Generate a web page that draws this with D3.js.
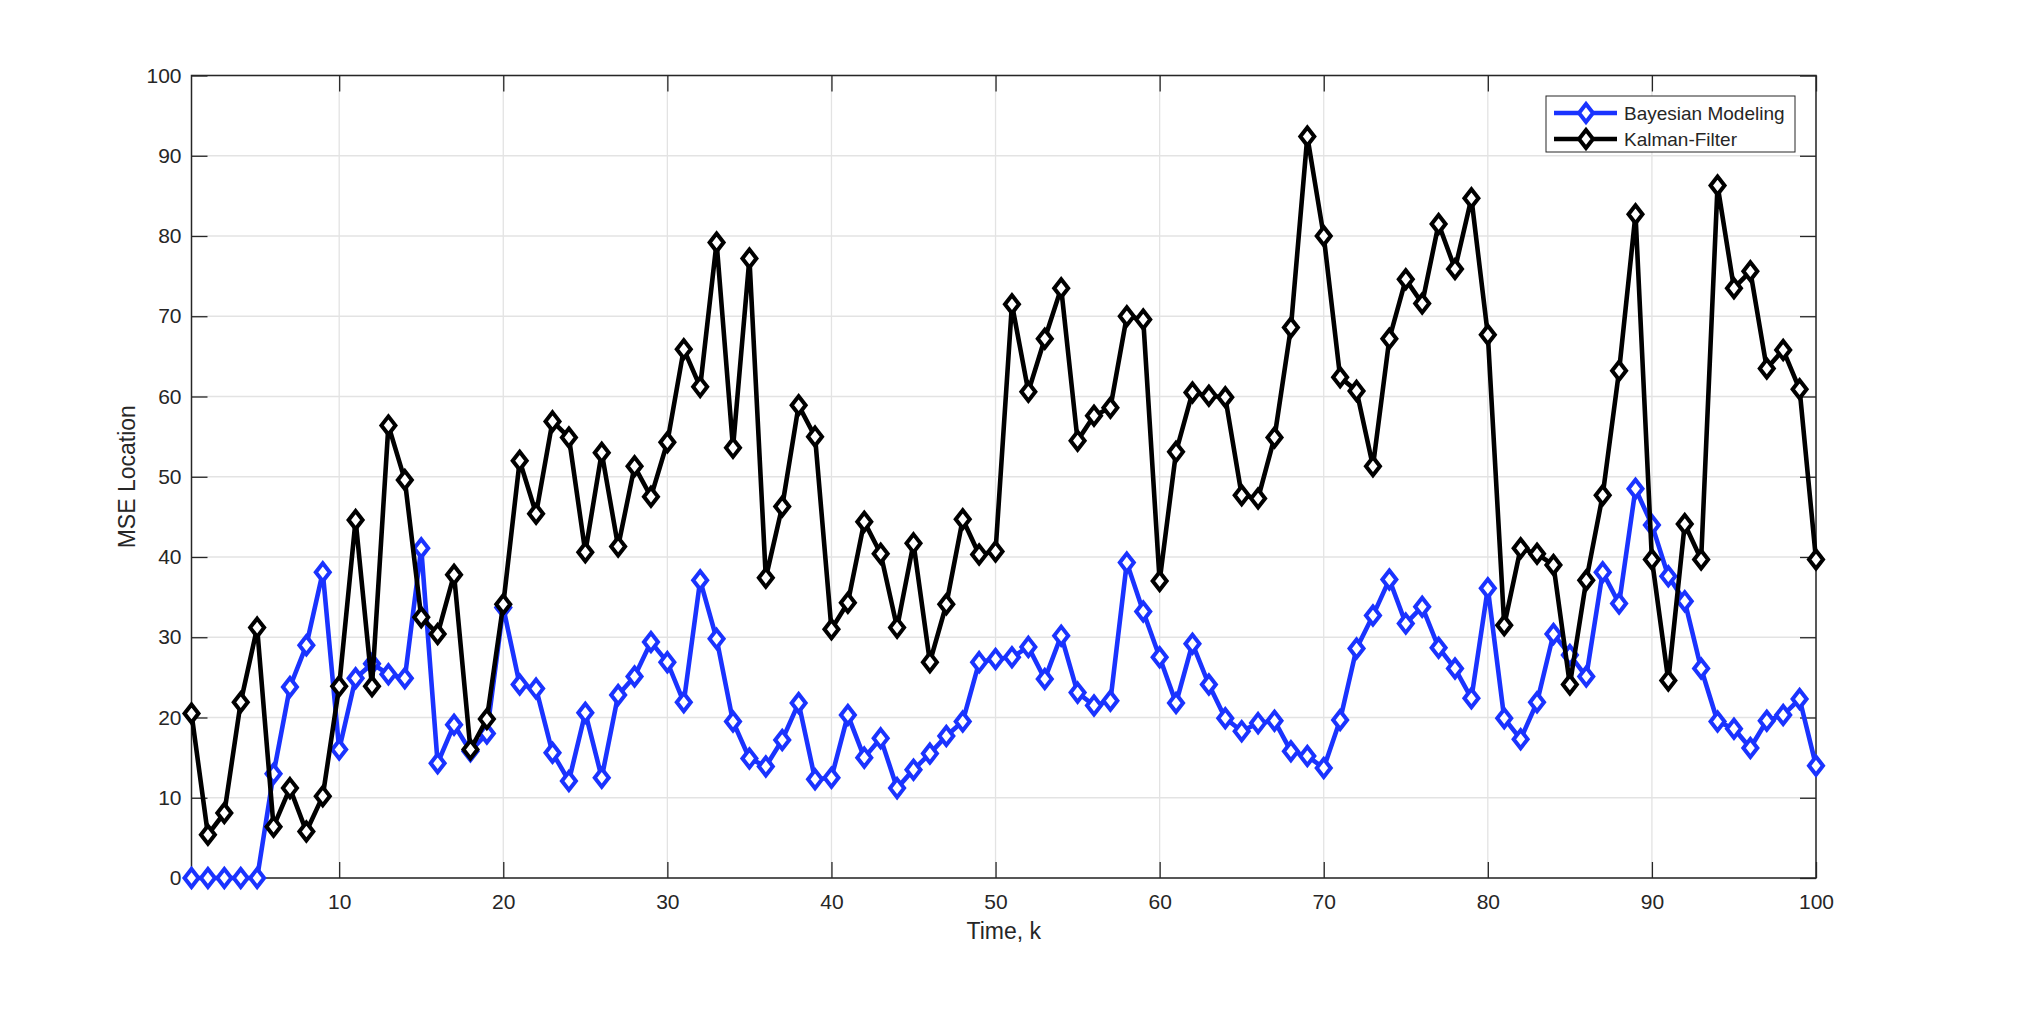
<!DOCTYPE html>
<html>
<head>
<meta charset="utf-8">
<script src="https://cdn.jsdelivr.net/npm/d3@7"></script>
<style>
  html, body { margin: 0; padding: 0; background: #ffffff; }
  svg { display: block; }
  text { font-family: "Liberation Sans", Arial, Helvetica, sans-serif; fill: #262626; }
</style>
</head>
<body>
<svg id="chart" width="2024" height="1012"></svg>
<script>
const timeSteps = d3.range(1, 101);
const bayesianModeling = [0,0,0,0,0,13.0,23.8,29.0,38.1,16.0,
24.9,26.7,25.4,24.9,41.1,14.3,19.1,15.8,18.0,33.7,
24.1,23.6,15.6,12.1,20.6,12.5,22.8,25.1,29.4,26.9,
21.9,37.1,29.8,19.5,14.9,13.9,17.2,21.8,12.3,12.5,
20.3,15.0,17.4,11.2,13.5,15.5,17.7,19.5,26.9,27.3,
27.5,28.8,24.8,30.2,23.1,21.5,22.1,39.3,33.2,27.5,
21.8,29.2,24.1,19.9,18.3,19.3,19.6,15.8,15.2,13.7,
19.7,28.6,32.7,37.2,31.7,33.8,28.7,26.1,22.4,36.1,
19.9,17.3,21.9,30.4,27.8,25.1,38.1,34.2,48.5,44.0,
37.6,34.5,26.1,19.5,18.6,16.2,19.6,20.3,22.3,14.0];
const kalmanFilter = [20.5,5.4,8.1,21.9,31.2,6.4,11.2,5.8,10.2,23.9,
44.6,23.9,56.4,49.6,32.5,30.4,37.8,16.0,19.8,34.1,
52.0,45.4,56.9,54.9,40.6,53.0,41.3,51.3,47.5,54.3,
65.9,61.2,79.2,53.6,77.2,37.4,46.3,58.9,55.0,31.0,
34.3,44.4,40.4,31.2,41.7,26.9,34.1,44.7,40.3,40.7,
71.5,60.6,67.2,73.5,54.5,57.6,58.6,70.0,69.6,37.0,
53.1,60.5,60.1,59.9,47.7,47.3,54.9,68.6,92.4,80.0,
62.4,60.7,51.3,67.2,74.6,71.6,81.5,75.9,84.7,67.7,
31.5,41.1,40.4,39.0,24.1,37.1,47.7,63.2,82.7,39.7,
24.6,44.1,39.7,86.3,73.5,75.6,63.5,65.8,60.9,39.7];
const xTickValues = [10,20,30,40,50,60,70,80,90,100];
const yTickValues = [0,10,20,30,40,50,60,70,80,90,100];
const seriesNames = ["Bayesian Modeling", "Kalman-Filter"];
const seriesColors = ["#1a33ff", "#000000"];
const xLabel = "Time, k";
const yLabel = "MSE Location";

(function () {
const pLeft = 191.5, pRight = 1816, pTop = 75.5, pBottom = 878;
const svg = d3.select("#chart");
svg.append("rect").attr("width", 2024).attr("height", 1012).attr("fill", "#fff");

const x = d3.scaleLinear().domain([1, 100]).range([pLeft, pRight]);
const y = d3.scaleLinear().domain([0, 100]).range([pBottom, pTop]);

// grid
const grid = svg.append("g");
grid.selectAll("line.gx").data(xTickValues).join("line").attr("class", "gx")
  .attr("x1", d => x(d)).attr("x2", d => x(d)).attr("y1", pTop).attr("y2", pBottom)
  .attr("stroke", "#e3e3e3").attr("stroke-width", 1.3);
grid.selectAll("line.gy").data(yTickValues).join("line").attr("class", "gy")
  .attr("y1", d => y(d)).attr("y2", d => y(d)).attr("x1", pLeft).attr("x2", pRight)
  .attr("stroke", "#e3e3e3").attr("stroke-width", 1.3);

// axes
const tickLen = 16;
const axisColor = "#262626";
function styleAxis(g, hideText) {
  g.select(".domain").remove();
  g.selectAll(".tick line").attr("stroke", axisColor).attr("stroke-width", 1.3);
  g.selectAll(".tick text").attr("font-size", 21).attr("fill", axisColor)
    .attr("font-family", "'Liberation Sans', Arial, sans-serif");
  if (hideText) g.selectAll(".tick text").remove();
}
svg.append("g").attr("transform", `translate(0,${pBottom})`)
  .call(d3.axisBottom(x).tickValues(xTickValues).tickSizeInner(-tickLen).tickSizeOuter(0).tickPadding(16))
  .call(g => styleAxis(g, false));
svg.append("g").attr("transform", `translate(0,${pTop})`)
  .call(d3.axisTop(x).tickValues(xTickValues).tickSizeInner(-tickLen).tickSizeOuter(0))
  .call(g => styleAxis(g, true));
svg.append("g").attr("transform", `translate(${pLeft},0)`)
  .call(d3.axisLeft(y).tickValues(yTickValues).tickSizeInner(-tickLen).tickSizeOuter(0).tickPadding(10))
  .call(g => styleAxis(g, false));
svg.append("g").attr("transform", `translate(${pRight},0)`)
  .call(d3.axisRight(y).tickValues(yTickValues).tickSizeInner(-tickLen).tickSizeOuter(0))
  .call(g => styleAxis(g, true));

svg.append("rect").attr("x", pLeft).attr("y", pTop).attr("width", pRight - pLeft).attr("height", pBottom - pTop)
  .attr("fill", "none").attr("stroke", axisColor).attr("stroke-width", 1.5);

// labels
svg.append("text").attr("x", (pLeft + pRight) / 2).attr("y", 939).attr("text-anchor", "middle")
  .attr("font-size", 23).text(xLabel);
svg.append("text").attr("transform", `translate(135,${(pTop + pBottom) / 2}) rotate(-90)`)
  .attr("text-anchor", "middle").attr("font-size", 23).text(yLabel);

// series
const diamond = "M0,-9 L7,0 L0,9 L-7,0 Z";
const seriesData = [bayesianModeling, kalmanFilter];
const line = d3.line().x((d, i) => x(timeSteps[i])).y(d => y(d));
const plot = svg.append("g");
seriesData.forEach((vals, si) => {
  const g = plot.append("g");
  g.append("path").datum(vals).attr("d", line).attr("fill", "none")
    .attr("stroke", seriesColors[si]).attr("stroke-width", 4.6).attr("stroke-linejoin", "miter");
  g.selectAll("path.m").data(vals).join("path").attr("class", "m")
    .attr("transform", (d, i) => `translate(${x(timeSteps[i])},${y(d)})`)
    .attr("d", diamond).attr("fill", "#fff").attr("stroke", seriesColors[si]).attr("stroke-width", 4);
});

// legend
const lg = svg.append("g");
lg.append("rect").attr("x", 1546).attr("y", 96).attr("width", 249).attr("height", 56)
  .attr("fill", "#fff").attr("stroke", "#262626").attr("stroke-width", 1);
seriesNames.forEach((name, i) => {
  const yy = 113 + i * 26;
  lg.append("line").attr("x1", 1554).attr("x2", 1617).attr("y1", yy).attr("y2", yy)
    .attr("stroke", seriesColors[i]).attr("stroke-width", 4.6);
  lg.append("path").attr("transform", `translate(1586,${yy})`).attr("d", diamond)
    .attr("fill", "#fff").attr("stroke", seriesColors[i]).attr("stroke-width", 4);
  lg.append("text").attr("x", 1624).attr("y", yy).attr("dy", "0.35em").attr("font-size", 19)
    .attr("fill", "#000").text(name);
});
})();
</script>
</body>
</html>
